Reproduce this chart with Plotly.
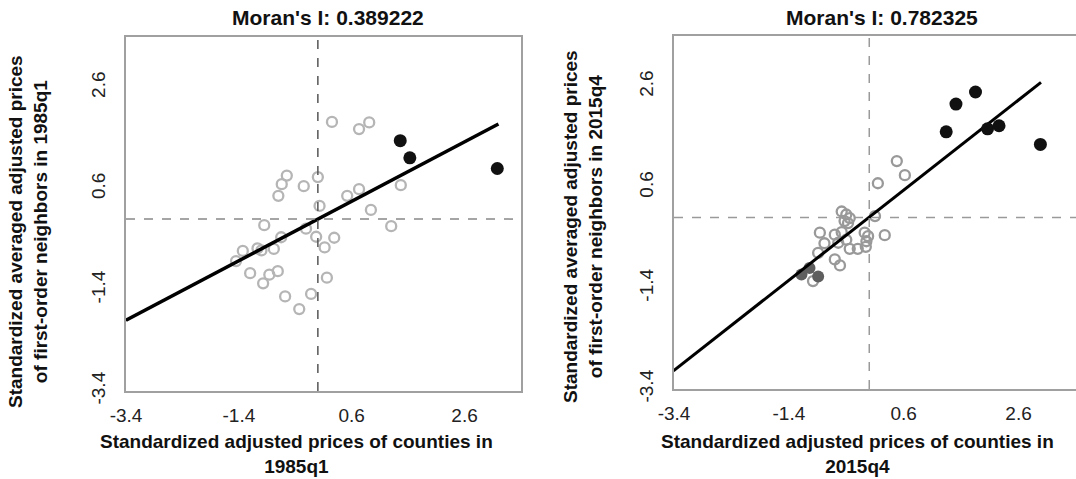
import plotly.graph_objects as go

W, H = 1076, 479

# ---------------- data: 1985q1 ----------------
left_open_x = [0.25, 0.73, 0.91, 1.47, -0.55, -0.64, -0.70, -0.25, 0.00, 0.03, 0.52, 0.73,
               0.94, 1.30, -0.95, -0.65, -0.21, -0.03, 0.29, 0.12, -1.33, -1.07, -1.00, -0.78,
               -1.45, -1.20, -0.86, -0.71, -0.97, 0.16, -0.58, -0.12, -0.33]
left_open_y = [1.92, 1.78, 1.91, 0.67, 0.86, 0.69, 0.46, 0.65, 0.83, 0.26, 0.46, 0.59,
               0.18, -0.14, -0.12, -0.36, -0.19, -0.35, -0.37, -0.56, -0.63, -0.58, -0.62, -0.59,
               -0.83, -1.07, -1.10, -1.03, -1.27, -1.16, -1.53, -1.48, -1.78]
left_hh_x = [1.46, 1.63, 3.18]
left_hh_y = [1.55, 1.21, 1.00]
left_fit_x = [-3.40, 3.20]
left_fit_y = [-2.00, 1.88]

# ---------------- data: 2015q4 ----------------
right_open_x = [0.48, 0.62, 0.15, -0.48, -0.40, -0.34, -0.43, -0.37, 0.10, -0.86, -0.60, -0.48,
                -0.40, -0.78, -0.54, -0.08, -0.02, -0.05, 0.27, -0.34, -0.20, -0.06, -0.89, -0.60,
                -0.51, -0.98]
right_open_y = [1.12, 0.84, 0.68, 0.12, 0.06, -0.01, -0.07, -0.11, 0.03, -0.30, -0.34, -0.29,
                -0.44, -0.51, -0.50, -0.30, -0.37, -0.47, -0.35, -0.62, -0.62, -0.58, -0.70, -0.83,
                -0.95, -1.26]
right_hh_x = [1.85, 1.51, 1.34, 2.06, 2.26, 2.98]
right_hh_y = [2.49, 2.25, 1.70, 1.76, 1.82, 1.45]
right_ll_x = [-1.18, -1.04, -0.89]
right_ll_y = [-1.13, -1.00, -1.17]
right_fit_x = [-3.41, 2.99]
right_fit_y = [-3.04, 2.68]

tick_vals = [-3.4, -1.4, 0.6, 2.6]
tick_text = ["-3.4", "-1.4", "0.6", "2.6"]
titles = ["Moran's I: 0.389222", "Moran's I: 0.782325"]
x_titles = ["Standardized adjusted prices of counties in<br>1985q1",
            "Standardized adjusted prices of counties in<br>2015q4"]
y_titles = ["Standardized averaged adjusted prices<br>of first-order neighbors in 1985q1",
            "Standardized averaged adjusted prices<br>of first-order neighbors in 2015q4"]

FONT = "Arial, Liberation Sans, sans-serif"

fig = go.Figure()

# left panel
fig.add_trace(go.Scatter(x=left_open_x, y=left_open_y, mode="markers", xaxis="x", yaxis="y",
                         marker=dict(symbol="circle-open", size=10, color="#b5b5b5",
                                     line=dict(width=2.3, color="#b5b5b5")), showlegend=False))
fig.add_trace(go.Scatter(x=left_fit_x, y=left_fit_y, mode="lines", xaxis="x", yaxis="y",
                         line=dict(color="#000000", width=3.5), showlegend=False))
fig.add_trace(go.Scatter(x=left_hh_x, y=left_hh_y, mode="markers", xaxis="x", yaxis="y",
                         marker=dict(symbol="circle", size=13, color="#111111"), showlegend=False))

# right panel
fig.add_trace(go.Scatter(x=right_open_x, y=right_open_y, mode="markers", xaxis="x2", yaxis="y2",
                         marker=dict(symbol="circle-open", size=10, color="#999999",
                                     line=dict(width=2.3, color="#999999")), showlegend=False))
fig.add_trace(go.Scatter(x=right_ll_x, y=right_ll_y, mode="markers", xaxis="x2", yaxis="y2",
                         marker=dict(symbol="circle", size=12, color="#5e5e5e"), showlegend=False))
fig.add_trace(go.Scatter(x=right_fit_x, y=right_fit_y, mode="lines", xaxis="x2", yaxis="y2",
                         line=dict(color="#000000", width=3), showlegend=False))
fig.add_trace(go.Scatter(x=right_hh_x, y=right_hh_y, mode="markers", xaxis="x2", yaxis="y2",
                         marker=dict(symbol="circle", size=13, color="#111111"), showlegend=False))

axis_common = dict(range=[-3.4, 3.6], showgrid=False, zeroline=False, showline=True, mirror=True,
                   linecolor="#a0a0a0", linewidth=1.5, ticks="", tickvals=tick_vals,
                   ticktext=tick_text, automargin=False,
                   tickfont=dict(family=FONT, size=19, color="#222222"))

fig.update_layout(
    width=W, height=H, margin=dict(l=0, r=0, t=0, b=0, autoexpand=False),
    paper_bgcolor="white", plot_bgcolor="white",
    xaxis=dict(domain=[126 / W, 521 / W], anchor="y", ticklabelstandoff=6, **axis_common),
    yaxis=dict(domain=[(H - 391) / H, (H - 37) / H], anchor="x", tickangle=-90,
               ticklabelstandoff=12, **axis_common),
    xaxis2=dict(domain=[674 / W, 1.0], anchor="y2", ticklabelstandoff=6, **axis_common),
    yaxis2=dict(domain=[(H - 389) / H, (H - 36) / H], anchor="x2", tickangle=-90,
                ticklabelstandoff=12, **axis_common),
)

# dashed reference lines at zero
fig.add_shape(type="line", xref="x", yref="y", x0=0, x1=0, y0=-3.4, y1=3.6,
              line=dict(color="#555555", width=1.5, dash="dash"))
fig.add_shape(type="line", xref="x", yref="y", x0=-3.4, x1=3.6, y0=0, y1=0,
              line=dict(color="#888888", width=1.5, dash="dash"))
fig.add_shape(type="line", xref="x2", yref="y2", x0=0, x1=0, y0=-3.4, y1=3.6,
              line=dict(color="#9a9a9a", width=1.5, dash="dash"))
fig.add_shape(type="line", xref="x2", yref="y2", x0=-3.4, x1=3.6, y0=0, y1=0,
              line=dict(color="#9a9a9a", width=1.5, dash="dash"))

title_x = [328 / W, 882 / W]
xt_x = [297 / W, 857 / W]
yt_x = [28 / W, 583 / W]
yt_y = [1 - 232 / H, 1 - 227 / H]
for i in range(2):
    fig.add_annotation(text="<b>%s</b>" % titles[i], xref="paper", yref="paper",
                       x=title_x[i], y=1 - 17 / H, xanchor="center", yanchor="middle",
                       showarrow=False, font=dict(family=FONT, size=21, color="#111111"))
    fig.add_annotation(text="<b>%s</b>" % x_titles[i], xref="paper", yref="paper",
                       x=xt_x[i], y=1 - 454 / H, xanchor="center", yanchor="middle",
                       showarrow=False, font=dict(family=FONT, size=19, color="#111111"))
    fig.add_annotation(text="<b>%s</b>" % y_titles[i], xref="paper", yref="paper",
                       x=yt_x[i], y=yt_y[i], xanchor="center", yanchor="middle", textangle=-90,
                       showarrow=False, font=dict(family=FONT, size=19, color="#111111"))

fig.write_html("out.html", config={"displayModeBar": False},
               post_script="document.body.style.margin='0';document.body.style.overflow='hidden';")
